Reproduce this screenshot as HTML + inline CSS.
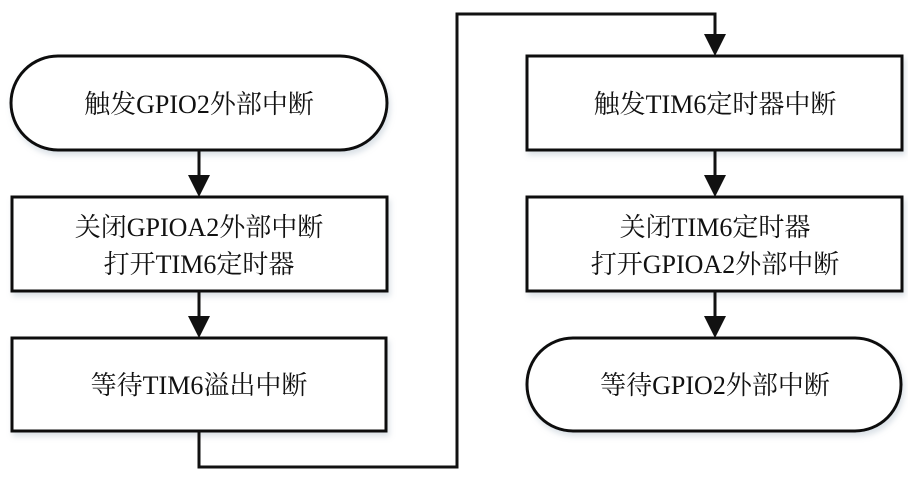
<!DOCTYPE html>
<html><head><meta charset="utf-8"><style>
html,body{margin:0;padding:0;background:#fff;}
svg text{font-family:"Liberation Serif","Noto Serif CJK SC",serif;font-size:26px;fill:#111;text-anchor:middle;}
</style></head><body>
<svg width="908" height="473" viewBox="0 0 908 473" xmlns="http://www.w3.org/2000/svg">
<defs>
<filter id="sh" x="-5%" y="-10%" width="115%" height="130%"><feDropShadow dx="2" dy="4" stdDeviation="3" flood-color="#9ab" flood-opacity="0.35"/></filter>
</defs>
<g fill="#fff" stroke="#111" stroke-width="3" filter="url(#sh)">
<rect x="11" y="56" width="376" height="94" rx="47"/>
<rect x="12" y="197" width="375" height="94"/>
<rect x="12" y="338" width="374" height="93"/>
<rect x="527" y="56" width="375" height="94"/>
<rect x="527" y="197" width="375" height="94"/>
<rect x="527" y="338" width="374" height="93" rx="46"/>
</g>
<g stroke="#111" stroke-width="3" fill="none">
<line x1="199" y1="150" x2="199" y2="178"/>
<line x1="199" y1="291" x2="199" y2="319"/>
<line x1="715" y1="150" x2="715" y2="178"/>
<line x1="715" y1="291" x2="715" y2="319"/>
<polyline points="199,431 199,467 457,467 457,14 715,14 715,37"/>
</g>
<g fill="#111">
<polygon points="188,175 210,175 199,197"/>
<polygon points="188,316 210,316 199,338"/>
<polygon points="704,175 726,175 715,197"/>
<polygon points="704,316 726,316 715,338"/>
<polygon points="704,34 726,34 715,56"/>
</g>
<text x="199" y="113">触发GPIO2外部中断</text>
<text x="199" y="236">关闭GPIOA2外部中断</text>
<text x="199" y="273">打开TIM6定时器</text>
<text x="199" y="394">等待TIM6溢出中断</text>
<text x="715" y="113">触发TIM6定时器中断</text>
<text x="715" y="236">关闭TIM6定时器</text>
<text x="715" y="273">打开GPIOA2外部中断</text>
<text x="715" y="394">等待GPIO2外部中断</text>
</svg>
</body></html>
